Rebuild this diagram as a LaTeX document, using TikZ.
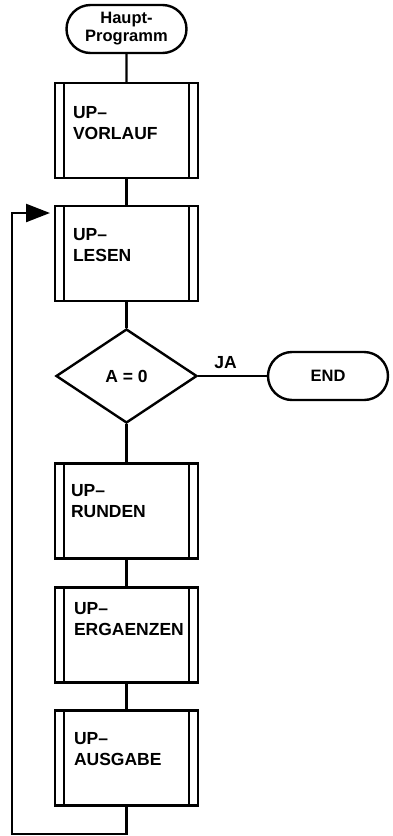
\documentclass[tikz,border=0pt]{standalone}
\usepackage{fontspec}
\setmainfont{Liberation Sans}
\usetikzlibrary{positioning, shapes.geometric, shapes.misc, arrows.meta}

\tikzset{
    up/.style={draw, rectangle, minimum width=143pt, minimum height=95pt, inner sep=0pt,
        path picture={
            \draw ([xshift=9pt]path picture bounding box.north west) -- ([xshift=9pt]path picture bounding box.south west);
            \draw ([xshift=-9pt]path picture bounding box.north east) -- ([xshift=-9pt]path picture bounding box.south east);
        }},
    uptext/.style={anchor=north west, inner sep=0pt, align=left, font=\fontsize{17.5}{21}\selectfont\bfseries},
    term/.style={draw, rounded rectangle, minimum width=120pt, minimum height=48pt, inner sep=0pt,
        align=center, font=\fontsize{16.5}{18}\selectfont\bfseries},
    test/.style={draw, diamond, aspect=1.5, minimum width=141pt, minimum height=94pt, inner sep=0pt,
        font=\fontsize{17.5}{21}\selectfont\bfseries},
}

\begin{document}
\begin{tikzpicture}[x=1pt, y=-1pt, line width=2.4pt]
    \useasboundingbox (0,0) rectangle (392,836);

    \node[term] (start)     at (126.5, 29)  {Haupt-\\Programm};
    \node[up]   (vorlauf)   at (126.5, 130.5) {};
    \node[up]   (lesen)     at (126.5, 253.5) {};
    \node[test] (null)      at (126.5, 376) {A = 0};
    \node[term] (ende)      at (328, 376)   {END};
    \node[up]   (runden)    at (126.5, 511) {};
    \node[up]   (ergaenzen) at (126.5, 635) {};
    \node[up]   (ausgabe)   at (126.5, 758) {};

    \node[uptext, below right=23pt and 18pt of vorlauf.north west]   (vorlauf-t)   {UP–\\VORLAUF};
    \node[uptext, below right=22pt and 18pt of lesen.north west]     (lesen-t)     {UP–\\LESEN};
    \node[uptext, below right=21pt and 16pt of runden.north west]    (runden-t)    {UP–\\RUNDEN};
    \node[uptext, below right=15pt and 19pt of ergaenzen.north west] (ergaenzen-t) {UP–\\ERGAENZEN};
    \node[uptext, below right=22pt and 19pt of ausgabe.north west]   (ausgabe-t)   {UP–\\AUSGABE};

    \coordinate (rueck1)  at (126.5, 834);
    \coordinate (rueck2)  at (12, 213);
    \coordinate (lesenin) at (50, 213);

    \begin{scope}
        \draw (start) -- (vorlauf);
        \draw (vorlauf) -- (lesen);
        \draw (lesen) -- (null);
        \draw (null) -- node[pos=0.4, above=3pt, font=\fontsize{17.5}{21}\selectfont\bfseries] (ja) {JA} (ende);
        \draw (null) -- (runden);
        \draw (runden) -- (ergaenzen);
        \draw (ergaenzen) -- (ausgabe);
        \draw[-{Triangle[length=24pt, width=18pt]}] (ausgabe) -- (rueck1) -| (rueck2) -- (lesenin);
    \end{scope}
\end{tikzpicture}
\end{document}
